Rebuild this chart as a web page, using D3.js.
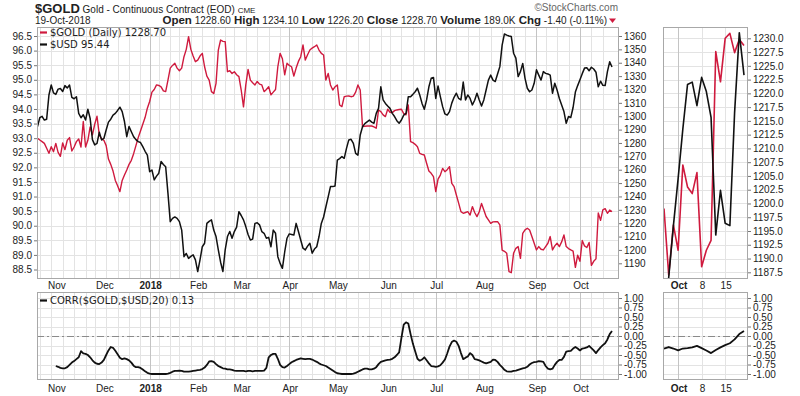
<!DOCTYPE html>
<html><head><meta charset="utf-8">
<script src="https://cdn.jsdelivr.net/npm/d3@7"></script>
<style>
body{margin:0;background:#fff}
svg{display:block}
text{font-family:"Liberation Sans",Arial,sans-serif;fill:#222}
</style>
</head><body>
<svg id="chart" width="800" height="396"></svg>
<script>
// ---------------- DATA ----------------
const gold = [
1283.5,1282.2,1281.0,1279.7,1276.0,1272.3,1277.2,1273.5,1279.7,1273.0,
1270.0,1280.0,1275.0,1282.0,1284.0,1274.0,1277.0,1281.0,1283.0,1277.0,
1296.0,1277.0,1282.0,1292.0,1286.0,1294.0,1300.0,1286.0,1283.0,1282.0,
1278.0,1268.0,1264.0,1259.0,1252.0,1248.0,1243.6,1252.0,1256.0,1259.8,
1264.0,1267.0,1272.0,1278.0,1284.0,1289.0,1294.0,1299.0,1306.0,1311.0,
1318.0,1320.0,1323.4,1323.0,1322.0,1319.0,1318.4,1327.0,1336.0,1338.0,
1339.6,1336.0,1334.0,1336.0,1344.5,1350.0,1359.5,1350.0,1345.0,1340.8,
1342.0,1345.0,1347.0,1337.0,1330.0,1327.0,1318.4,1317.0,1324.6,1349.5,
1357.0,1356.0,1355.8,1333.3,1334.0,1332.0,1333.3,1331.0,1329.6,1319.6,
1307.0,1323.4,1335.0,1327.0,1325.0,1323.4,1326.0,1324.0,1323.4,1318.4,
1320.0,1322.0,1316.0,1318.0,1320.0,1337.0,1347.0,1343.0,1331.0,1339.6,
1338.0,1337.0,1330.0,1336.0,1341.0,1344.5,1353.3,1342.0,1346.0,1349.5,
1351.0,1352.0,1353.3,1349.5,1347.0,1345.8,1327.0,1332.0,1323.4,1319.6,
1322.0,1323.4,1308.4,1307.2,1314.6,1315.0,1315.1,1314.6,1315.0,1318.0,
1323.4,1319.6,1292.2,1292.5,1292.7,1292.7,1292.7,1292.0,1291.0,1304.7,
1303.4,1301.0,1299.7,1305.2,1303.0,1302.7,1304.2,1304.7,1305.0,1305.2,
1302.0,1301.0,1308.4,1281.0,1280.2,1279.0,1277.2,1272.2,1271.5,1271.0,
1264.8,1259.0,1257.3,1254.8,1243.6,1253.0,1256.0,1261.0,1258.5,1260.0,
1262.3,1249.8,1247.3,1241.1,1235.0,1228.6,1227.4,1228.0,1228.6,1226.1,
1232.4,1228.0,1224.9,1228.6,1234.8,1229.9,1225.0,1222.4,1219.9,1221.0,
1221.1,1221.1,1218.7,1199.9,1199.0,1197.5,1183.7,1183.0,1197.5,1201.2,
1202.5,1193.7,1212.4,1215.0,1216.2,1214.9,1210.0,1205.0,1200.0,1202.5,
1200.5,1200.0,1202.5,1205.0,1210.0,1200.0,1203.0,1205.0,1202.5,1206.0,
1211.2,1202.5,1201.0,1200.0,1199.1,1187.0,1196.1,1191.5,1207.0,1203.0,
1201.8,1205.6,1188.5,1191.5,1193.3,1227.6,1222.1,1230.0,1230.9,1227.4,
1229.8,1228.7];

const usd = [
93.40,93.70,93.75,93.62,93.65,94.48,94.82,94.55,94.50,94.68,
94.70,94.60,94.80,94.72,94.82,94.40,94.35,94.42,93.85,93.70,
93.80,93.62,93.99,93.68,92.95,92.77,92.82,93.20,92.94,92.99,
93.28,93.55,93.65,93.79,93.85,93.95,94.06,93.91,93.57,93.05,
93.40,93.22,93.05,92.95,92.88,92.85,92.71,92.55,92.42,91.85,
91.91,91.57,91.70,91.80,92.20,92.10,92.02,91.11,90.14,90.25,
90.30,90.25,90.14,89.85,88.94,89.05,88.88,88.95,89.00,88.83,
88.43,88.83,89.28,89.40,90.08,90.15,90.20,89.85,89.63,89.17,
88.75,88.43,89.17,89.63,89.80,89.57,89.80,89.95,90.48,90.35,
90.20,89.97,89.70,89.51,89.54,90.08,90.10,90.03,89.80,89.74,
89.57,89.60,89.28,89.85,89.74,88.94,88.71,88.54,89.10,89.57,
89.72,89.70,89.68,90.08,89.80,89.51,89.23,89.17,89.30,89.40,
89.06,89.20,89.28,89.63,90.08,90.30,90.65,90.99,91.34,91.34,
91.36,92.25,92.30,92.37,92.31,92.65,92.94,92.96,92.82,92.48,
92.42,93.11,93.39,93.50,93.56,93.62,93.55,93.51,93.85,94.02,
94.76,94.31,94.19,94.10,94.02,93.85,93.74,93.60,93.51,93.62,
93.79,93.85,94.42,94.42,94.50,94.59,94.71,94.48,94.19,93.99,
94.31,94.76,95.05,95.08,94.36,94.79,94.42,94.08,93.83,93.79,
93.91,94.20,94.40,94.54,94.36,94.31,94.92,94.31,94.48,94.36,
94.14,94.30,94.54,94.31,94.10,94.31,94.65,94.99,95.16,94.99,
94.94,95.20,95.45,96.19,96.57,96.53,96.50,96.48,95.91,95.74,
95.11,95.28,95.56,95.05,94.71,94.59,94.65,94.88,95.34,95.16,
94.99,95.28,95.22,95.20,95.16,94.54,94.88,94.65,94.36,94.14,
93.91,93.51,93.74,93.71,94.05,94.58,94.80,95.00,95.21,95.40,
95.41,95.31,95.43,95.37,95.26,94.76,94.95,94.81,94.80,95.28,
95.62,95.44];

const corr = [
null,null,null,null,null,null,null,null,-0.79,-0.81,
-0.84,-0.85,-0.85,-0.82,-0.76,-0.70,-0.66,-0.61,-0.56,-0.40,
-0.46,-0.47,-0.50,-0.56,-0.64,-0.70,-0.73,-0.74,-0.70,-0.63,
-0.50,-0.38,-0.29,-0.31,-0.39,-0.48,-0.57,-0.61,-0.59,-0.61,
-0.64,-0.70,-0.78,-0.82,-0.82,-0.84,-0.88,-0.93,-0.97,-0.99,
-1.00,-1.00,-1.00,-1.00,-1.00,-1.00,-1.00,-0.99,-0.97,-0.94,
-0.92,-0.92,-0.91,-0.92,-0.94,-0.94,-0.94,-0.93,-0.92,-0.91,
-0.90,-0.89,-0.87,-0.83,-0.76,-0.67,-0.66,-0.68,-0.74,-0.79,
-0.82,-0.85,-0.86,-0.88,-0.88,-0.89,-0.91,-0.92,-0.92,-0.92,
-0.92,-0.93,-0.92,-0.92,-0.93,-0.92,-0.92,-0.92,-0.92,-0.91,
-0.84,-0.56,-0.50,-0.47,-0.47,-0.60,-0.76,-0.82,-0.83,-0.79,
-0.74,-0.69,-0.66,-0.63,-0.61,-0.59,-0.60,-0.61,-0.60,-0.60,
-0.62,-0.65,-0.68,-0.72,-0.75,-0.77,-0.79,-0.83,-0.87,-0.91,
-0.95,-0.98,-0.99,-1.00,-1.00,-1.00,-1.00,-1.00,-0.99,-0.97,
-0.94,-0.91,-0.88,-0.86,-0.86,-0.88,-0.88,-0.86,-0.82,-0.74,
-0.68,-0.66,-0.64,-0.63,-0.62,-0.60,-0.56,-0.50,-0.43,-0.05,
0.30,0.36,0.33,0.05,-0.20,-0.40,-0.60,-0.65,-0.62,-0.56,
-0.64,-0.72,-0.79,-0.80,-0.81,-0.80,-0.77,-0.70,-0.62,-0.46,
-0.28,-0.16,-0.12,-0.15,-0.26,-0.45,-0.61,-0.57,-0.54,-0.45,
-0.50,-0.61,-0.62,-0.64,-0.67,-0.70,-0.72,-0.70,-0.68,-0.62,
-0.63,-0.68,-0.76,-0.82,-0.89,-0.93,-0.94,-0.94,-0.92,-0.91,
-0.89,-0.87,-0.85,-0.84,-0.81,-0.75,-0.71,-0.69,-0.68,-0.66,
-0.67,-0.68,-0.79,-0.86,-0.88,-0.86,-0.76,-0.68,-0.63,-0.63,
-0.55,-0.41,-0.40,-0.39,-0.33,-0.29,-0.33,-0.38,-0.33,-0.32,
-0.30,-0.26,-0.32,-0.38,-0.45,-0.37,-0.30,-0.24,-0.19,-0.09,
0.05,0.13];

const monthLabels = ["Nov","Dec","2018","Feb","Mar","Apr","May","Jun","Jul","Aug","Sep","Oct"];
const boldLabels = ["2018"];
const zoomXLabels = ["Oct","8","15"];
const usdTicks = [96.5,96.0,95.5,95.0,94.5,94.0,93.5,93.0,92.5,92.0,91.5,91.0,90.5,90.0,89.5,89.0,88.5];
const goldTicks = [1360,1350,1340,1330,1320,1310,1300,1290,1280,1270,1260,1250,1240,1230,1220,1210,1200,1190];
const zoomTicks = [1230.0,1227.5,1225.0,1222.5,1220.0,1217.5,1215.0,1212.5,1210.0,1207.5,1205.0,1202.5,1200.0,1197.5,1195.0,1192.5,1190.0,1187.5];
const corrTicks = [1.00,0.75,0.50,0.25,0.00,-0.25,-0.50,-0.75,-1.00];
const holidays = ["2017-11-23","2017-12-25","2018-01-01","2018-01-15","2018-02-19","2018-03-30","2018-05-28","2018-07-04","2018-09-03"];
const zoomDays = 18;

// ---------------- DATES ----------------
const fmt = d3.timeFormat("%Y-%m-%d");
const dates = [];
{ let d = new Date(2017, 9, 20);
  while (dates.length < gold.length) {
    const dow = d.getDay();
    if (dow !== 0 && dow !== 6 && !holidays.includes(fmt(d))) dates.push(new Date(d));
    d.setDate(d.getDate() + 1);
  }
}
const N = gold.length;
const monthStarts = [], weekStarts = [];
for (let i = 1; i < N; i++) {
  if (dates[i].getMonth() !== dates[i-1].getMonth()) monthStarts.push(i);
  if ((dates[i] - dates[i-1]) / 864e5 > 2 || dates[i].getDay() < dates[i-1].getDay()) weekStarts.push(i);
}

// ---------------- LAYOUT ----------------
const svg = d3.select("#chart");
const P = {x0:37, x1:619, y0:27, y1:279};
const Z = {x0:663, x1:748, y0:27, y1:279};
const C = {x0:37, x1:619, y0:292, y1:380};
const CZ = {x0:663, x1:748, y0:292, y1:380};
const RED = "#cf1a3e";

const x = d3.scaleLinear().domain([0, N-1]).range([37.5, 612]);
const yUsd = d3.scaleLinear().domain([88.5, 96.5]).range([269.5, 36]);
const yGold = d3.scaleLinear().domain([1190, 1360]).range([263.3, 36]);
const zStart = N - zoomDays;
const xz = d3.scaleLinear().domain([zStart, N-1]).range([664, 744]);
const yz = d3.scaleLinear().domain([1187.5, 1230]).range([272.3, 38.3]);
const yzUsd = d3.scaleLinear().domain([94.6, 95.6]).range([272.7, 37.4]);
const yc = d3.scaleLinear().domain([-1, 1]).range([374, 298]);
const ycz = yc;

function clip(id, r) {
  svg.append("clipPath").attr("id", id).append("rect")
    .attr("x", r.x0).attr("y", r.y0).attr("width", r.x1 - r.x0).attr("height", r.y1 - r.y0);
}
clip("cP", P); clip("cZ", Z); clip("cC", C); clip("cCZ", CZ);

function vgrid(g, r, xs, idxs, months) {
  g.selectAll(null).data(idxs).enter().append("line")
    .attr("x1", d => Math.round(xs(d)) + 0.5).attr("x2", d => Math.round(xs(d)) + 0.5)
    .attr("y1", r.y0).attr("y2", r.y1)
    .attr("stroke", d => months.includes(d) ? "#c4c4c4" : "#e3e3e3").attr("stroke-width", 1);
}
function hgrid(g, r, ys, ticks) {
  g.selectAll(null).data(ticks).enter().append("line")
    .attr("x1", r.x0).attr("x2", r.x1)
    .attr("y1", d => Math.round(ys(d)) + 0.5).attr("y2", d => Math.round(ys(d)) + 0.5)
    .attr("stroke", "#e3e3e3").attr("stroke-width", 1);
}
function frame(r) {
  svg.append("rect").attr("x", r.x0 + 0.5).attr("y", r.y0 + 0.5)
    .attr("width", r.x1 - r.x0 - 1).attr("height", r.y1 - r.y0 - 1)
    .attr("fill", "none").attr("stroke", "#a8a8a8");
}

const zWeeks = weekStarts.filter(i => i >= zStart);
const zMonths = monthStarts.filter(i => i >= zStart);

const gP = svg.append("g").attr("clip-path", "url(#cP)");
hgrid(gP, P, yUsd, usdTicks);
vgrid(gP, P, x, weekStarts, monthStarts);
const gZ = svg.append("g").attr("clip-path", "url(#cZ)");
hgrid(gZ, Z, yz, zoomTicks);
vgrid(gZ, Z, xz, zWeeks, zMonths);
const gC = svg.append("g").attr("clip-path", "url(#cC)");
hgrid(gC, C, yc, corrTicks);
vgrid(gC, C, x, weekStarts, monthStarts);
const gCZ = svg.append("g").attr("clip-path", "url(#cCZ)");
hgrid(gCZ, CZ, ycz, corrTicks);
vgrid(gCZ, CZ, xz, zWeeks, zMonths);

[[gC, C], [gCZ, CZ]].forEach(([g, r]) => {
  g.append("line").attr("x1", r.x0).attr("x2", r.x1)
    .attr("y1", Math.round(yc(0)) + 0.5).attr("y2", Math.round(yc(0)) + 0.5)
    .attr("stroke", "#8a8a8a").attr("stroke-width", 1).attr("stroke-dasharray", "7,3,2,3");
});

const idx = d3.range(N);
const zidx = d3.range(zStart, N);
function drawLine(g, data, xs, ys, ids, color, w) {
  g.append("path").datum(ids)
    .attr("fill", "none").attr("stroke", color).attr("stroke-width", w)
    .attr("stroke-linejoin", "round")
    .attr("d", d3.line().defined(i => data[i] != null).x(i => xs(i)).y(i => ys(data[i])));
}
drawLine(gP, gold, x, yGold, idx, RED, 1.4);
drawLine(gP, usd, x, yUsd, idx, "#111", 1.5);
drawLine(gZ, gold, xz, yz, zidx, RED, 1.6);
drawLine(gZ, usd, xz, yzUsd, zidx, "#111", 1.6);
drawLine(gC, corr, x, yc, idx, "#111", 1.8);
drawLine(gCZ, corr, xz, ycz, zidx, "#111", 1.8);

[P, Z, C, CZ].forEach(frame);

function styleAxis(g) {
  g.select(".domain").remove();
  g.selectAll(".tick line").attr("stroke", "#777");
  g.selectAll(".tick text").attr("fill", "#222").style("font-size", "10px")
    .style("font-family", '"Liberation Sans",Arial,sans-serif');
}
svg.append("g").attr("transform", `translate(${P.x0},0)`)
  .call(d3.axisLeft(yUsd).tickValues(usdTicks).tickFormat(d => d.toFixed(1)).tickSize(3).tickPadding(2))
  .call(styleAxis);
svg.append("g").attr("transform", `translate(${P.x1},0)`)
  .call(d3.axisRight(yGold).tickValues(goldTicks).tickFormat(d => String(d)).tickSize(3).tickPadding(2))
  .call(styleAxis);
svg.append("g").attr("transform", `translate(${Z.x1},0)`)
  .call(d3.axisRight(yz).tickValues(zoomTicks).tickFormat(d => d.toFixed(1)).tickSize(3).tickPadding(2))
  .call(styleAxis);
const cfmt = d => (d < 0 ? "-" : "") + Math.abs(d).toFixed(2);
svg.append("g").attr("transform", `translate(${C.x1},0)`)
  .call(d3.axisRight(yc).tickValues(corrTicks).tickFormat(cfmt).tickSize(3).tickPadding(2))
  .call(styleAxis);
svg.append("g").attr("transform", `translate(${CZ.x1},0)`)
  .call(d3.axisRight(ycz).tickValues(corrTicks).tickFormat(cfmt).tickSize(3).tickPadding(2))
  .call(styleAxis);

function xLabels(ids, labels, xs, y) {
  svg.append("g").selectAll("text").data(ids).enter().append("text")
    .attr("x", d => xs(d) + 1).attr("y", y).attr("text-anchor", "middle")
    .style("font-size", "10px")
    .style("font-weight", (d, k) => (boldLabels.includes(labels[k]) || (labels === zoomXLabels && k === 0)) ? "bold" : "normal")
    .text((d, k) => labels[k]);
}
xLabels(monthStarts, monthLabels, x, 289);
xLabels(monthStarts, monthLabels, x, 392);
xLabels(zWeeks, zoomXLabels, xz, 289);
xLabels(zWeeks, zoomXLabels, xz, 392);

function legend(x0, y, color, label) {
  svg.append("line").attr("x1", x0).attr("x2", x0 + 7).attr("y1", y - 3.5).attr("y2", y - 3.5)
    .attr("stroke", color).attr("stroke-width", 2.2);
  svg.append("text").attr("x", x0 + 10).attr("y", y).style("font-size", "10px")
    .style("font-family", '"DejaVu Sans",Verdana,sans-serif').text(label);
}
legend(40, 36, RED, "$GOLD (Daily) 1228.70");
legend(40, 48, "#111", "$USD 95.44");
legend(40, 304, "#111", "CORR($GOLD,$USD,20) 0.13");

const t1 = svg.append("text").attr("x", 35).attr("y", 13);
t1.append("tspan").style("font-weight", "bold").style("font-size", "13px").text("$GOLD");
t1.append("tspan").style("font-size", "10px").text(" Gold - Continuous Contract (EOD) ");
t1.append("tspan").style("font-size", "8px").text("CME");
svg.append("text").attr("x", 35).attr("y", 24).style("font-size", "10px").text("19-Oct-2018");
const ohlc = [["Open","1228.60"],["High","1234.10"],["Low","1226.20"],["Close","1228.70"],["Volume","189.0K"],["Chg","-1.40 (-0.11%)"]];
const t2 = svg.append("text").attr("x", 607).attr("y", 24).attr("text-anchor", "end");
ohlc.forEach(([k, v], j) => {
  t2.append("tspan").style("font-weight", "bold").style("font-size", "11.5px").text((j ? " " : "") + k);
  t2.append("tspan").style("font-size", "10px").text(" " + v);
});
svg.append("path").attr("d", "M609,18.5 L616,18.5 L612.5,23 Z").attr("fill", RED);
svg.append("text").attr("x", 618).attr("y", 11).attr("text-anchor", "end")
  .style("font-size", "10px").style("fill", "#666").text("©StockCharts.com");
</script>
</body></html>
